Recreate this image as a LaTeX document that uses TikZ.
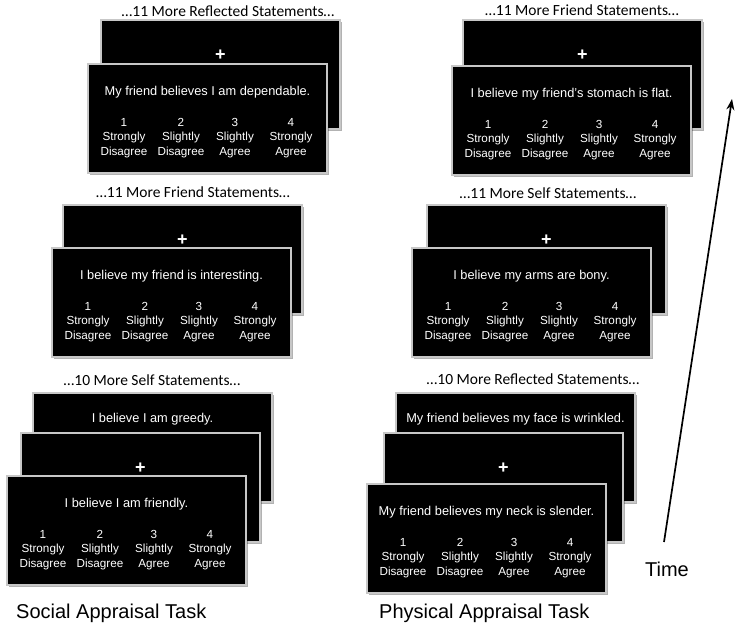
\documentclass[tikz,border=0pt]{standalone}
\usepackage{fontspec}
\setmainfont{Liberation Sans}
\newfontfamily\calib{Carlito}
\usetikzlibrary{arrows.meta,shadows}
\tikzset{
  screen/.style={fill=black, draw=black!22, line width=1.2pt,
    minimum width=239pt, minimum height=109pt, anchor=north west,
    inner sep=0pt, outer sep=0pt,
    drop shadow={shadow xshift=2pt, shadow yshift=-2pt, opacity=0.3, fill=black}},
  stmt/.style={text=white, font=\fontsize{12.8}{15}\selectfont, inner sep=0pt},
  fixcross/.style={text=white, font=\bfseries\fontsize{18}{20}\selectfont, inner sep=0pt},
  rating/.style={text=white, font=\fontsize{11.7}{14.5}\selectfont, align=center, inner sep=0pt},
  header/.style={font=\calib\fontsize{15.5}{18}\selectfont, inner sep=0pt},
  tasklabel/.style={font=\fontsize{20}{24}\selectfont, inner sep=0pt},
  timearrow/.style={line width=1.7pt, -{Stealth[length=11pt,width=8pt]}}
}
\newcommand\frontscreen[4]{%
  \node[screen] (#1) at (#2,#3) {};
  \node[stmt] (#1-s) at ({#2+119.5},{#3+28}) {#4};
  \node[rating] (#1-r1) at ({#2+36},{#3+74}) {1\\Strongly\\Disagree};
  \node[rating] (#1-r2) at ({#2+93},{#3+74}) {2\\Slightly\\Disagree};
  \node[rating] (#1-r3) at ({#2+147},{#3+74}) {3\\Slightly\\Agree};
  \node[rating] (#1-r4) at ({#2+203},{#3+74}) {4\\Strongly\\Agree};
}
\newcommand\crossscreen[3]{%
  \node[screen] (#1) at (#2,#3) {};
  \node[fixcross] (#1-c) at ({#2+119.5},{#3+35}) {+};
}
\newcommand\textscreen[4]{%
  \node[screen] (#1) at (#2,#3) {};
  \node[stmt] (#1-s) at ({#2+119.5},{#3+26}) {#4};
}
\begin{document}
\begin{tikzpicture}[x=1pt,y=-1pt]
\useasboundingbox (0,0) rectangle (742,629);

% top left
\node[header] (hTL) at (228,11) {…11 More Reflected Statements…};
\crossscreen{TLb}{101}{20}
\frontscreen{TLf}{88}{64}{My friend believes I am dependable.}

% top right
\node[header] (hTR) at (582,10) {…11 More Friend Statements…};
\crossscreen{TRb}{463}{20}
\frontscreen{TRf}{452}{66}{I believe my friend’s stomach is flat.}

% middle left
\node[header] (hML) at (193,192) {…11 More Friend Statements…};
\crossscreen{MLb}{63}{205}
\frontscreen{MLf}{52}{248}{I believe my friend is interesting.}

% middle right
\node[header] (hMR) at (548,193) {…11 More Self Statements…};
\crossscreen{MRb}{427}{205}
\frontscreen{MRf}{412}{248}{I believe my arms are bony.}

% bottom left
\node[header] (hBL) at (152,380) {…10 More Self Statements…};
\textscreen{BLb}{33}{393}{I believe I am greedy.}
\crossscreen{BLm}{21}{433}
\frontscreen{BLf}{7}{476}{I believe I am friendly.}

% bottom right
\node[header] (hBR) at (533,379) {…10 More Reflected Statements…};
\textscreen{BRb}{396}{393}{My friend believes my face is wrinkled.}
\crossscreen{BRm}{384}{433}
\frontscreen{BRf}{367}{484}{My friend believes my neck is slender.}

% task labels
\node[tasklabel, anchor=west] (social) at (16,613) {Social Appraisal Task};
\node[tasklabel, anchor=west] (physical) at (379,613) {Physical Appraisal Task};

% time arrow
\node[tasklabel] (time) at (667,569) {Time};
\coordinate (tstart) at (664,542);
\coordinate (tend) at (732,99);
\draw[timearrow] (tstart) -- (tend);
\end{tikzpicture}
\end{document}
